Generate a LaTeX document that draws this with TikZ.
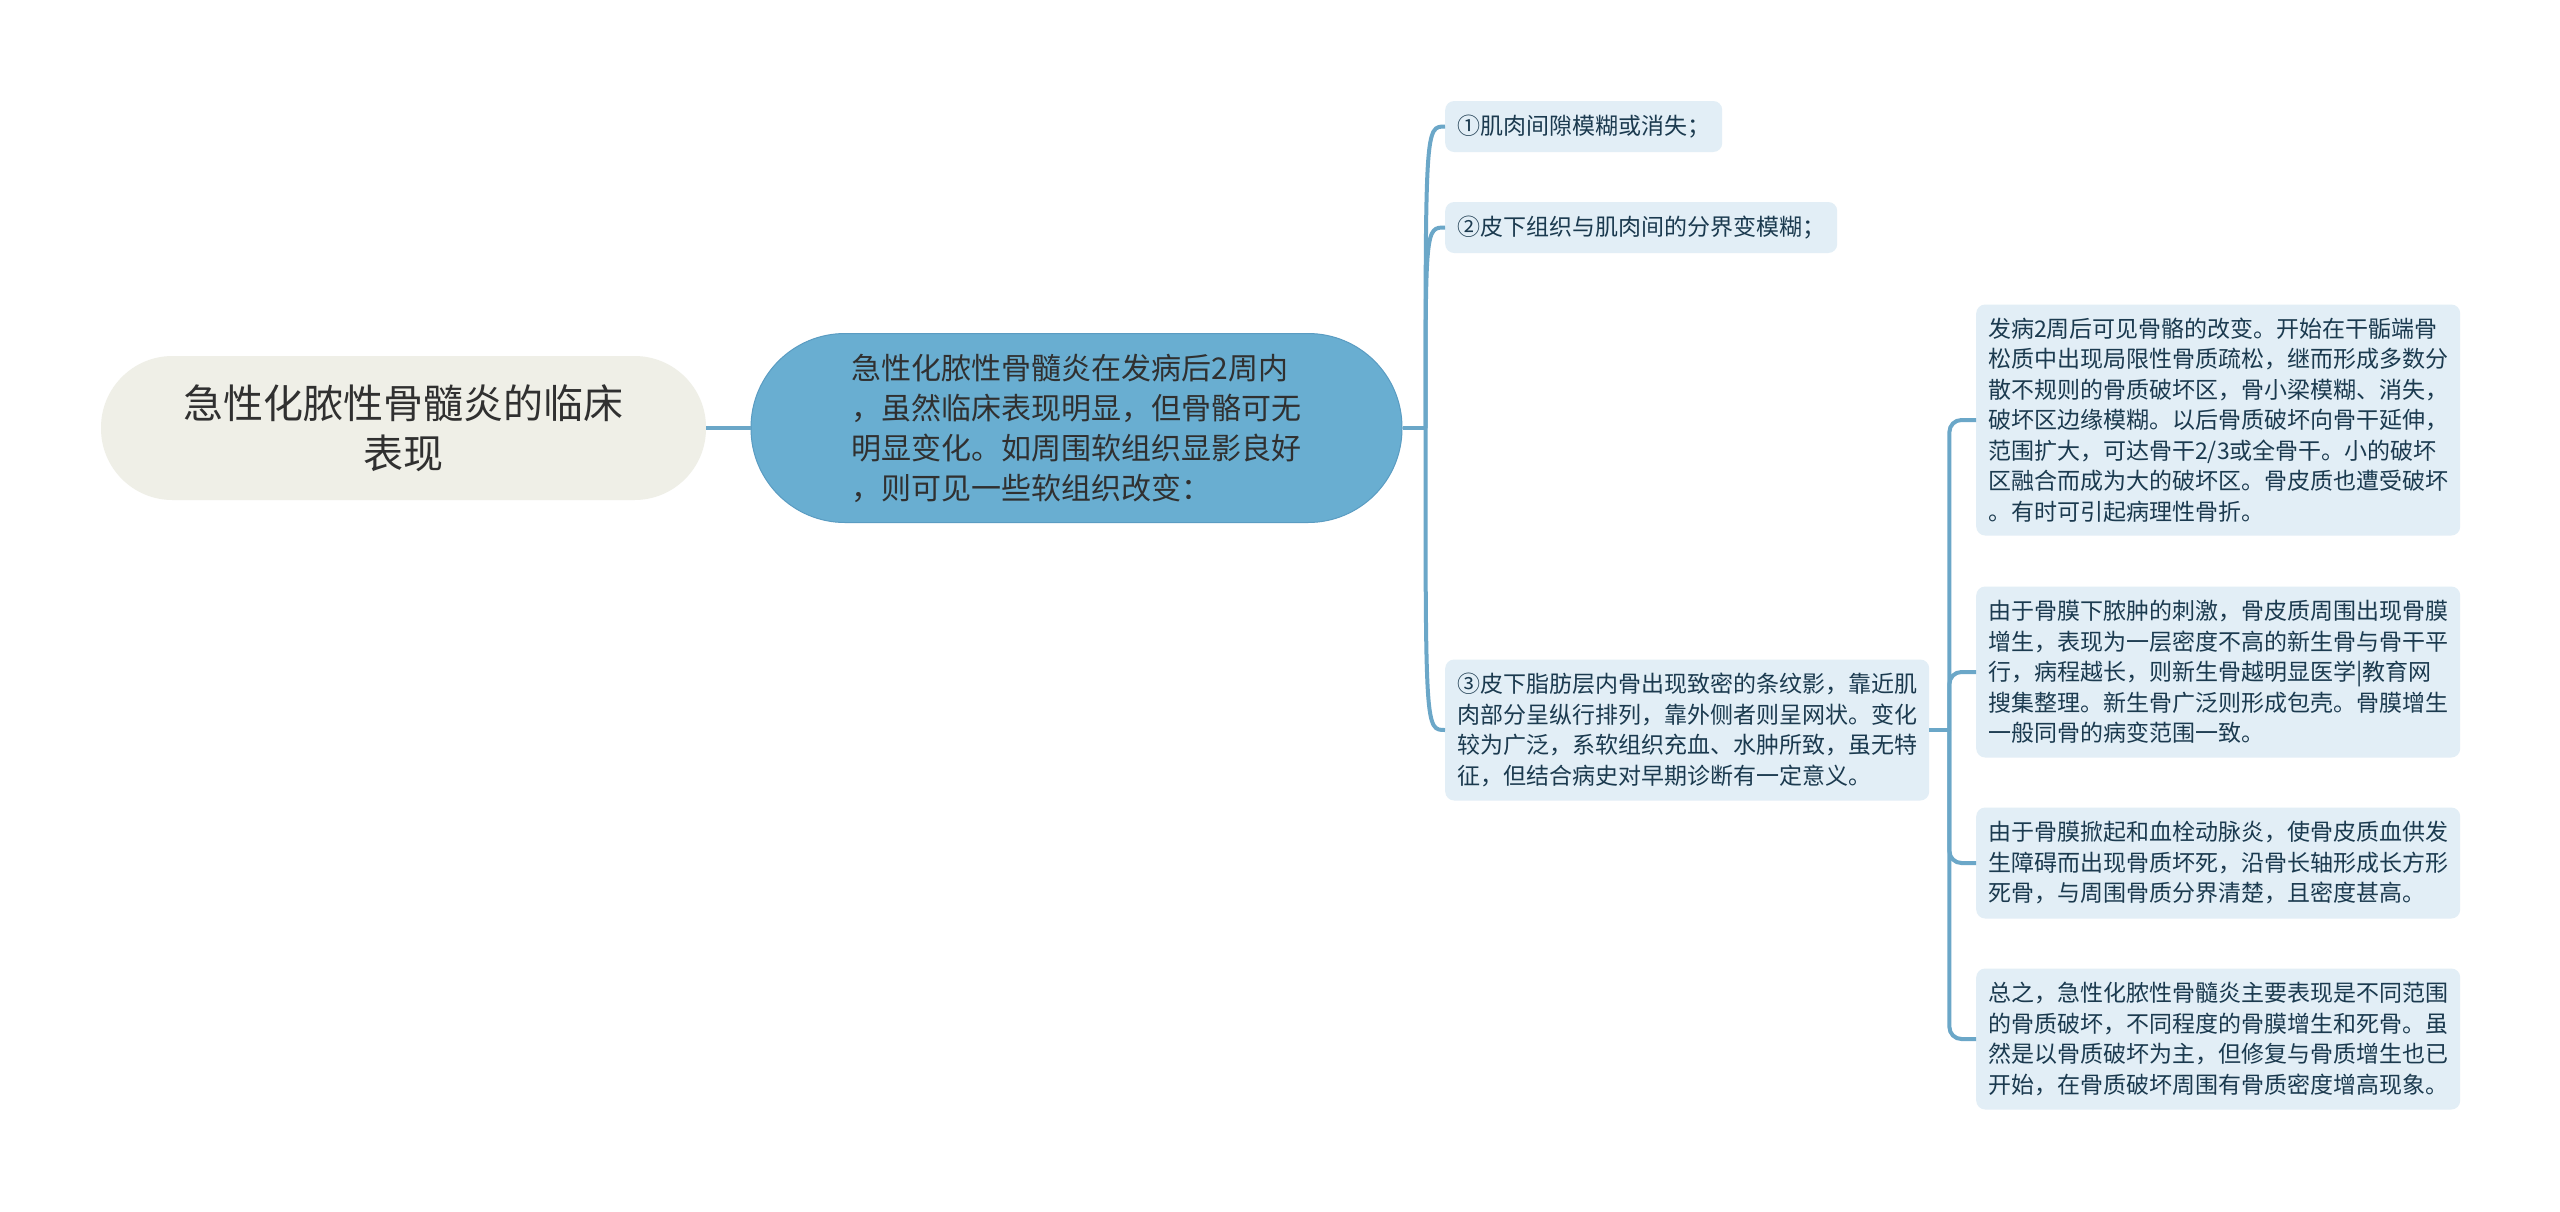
\documentclass[tikz,border=0pt]{standalone}
\usepackage{fontspec}
\setmainfont{Noto Sans CJK SC}
\usetikzlibrary{calc}
\definecolor{lineblue}{HTML}{6BA7C8}
\definecolor{rootfill}{HTML}{EFEFE7}
\definecolor{roottext}{HTML}{303030}
\definecolor{mainfill}{HTML}{69AED1}
\definecolor{mainborder}{HTML}{5A9CC2}
\definecolor{leaffill}{HTML}{E2EEF6}
\definecolor{leaftext}{HTML}{1B3A4F}
\tikzset{
  conn/.style={draw=lineblue, line width=4pt},
  rootbox/.style={fill=rootfill, rounded corners=71.5pt, minimum width=605pt, minimum height=144pt,
    align=center, text=roottext, font=\fontsize{40pt}{50pt}\selectfont, inner sep=0pt},
  mainbox/.style={fill=mainfill, draw=mainborder, line width=1pt, rounded corners=94pt,
    minimum width=651pt, minimum height=189pt, align=left, text=roottext,
    font=\fontsize{30pt}{40pt}\selectfont, inner sep=0pt},
  leaf/.style={fill=leaffill, rounded corners=9pt, anchor=west, align=left, text=leaftext,
    font=\fontsize{23pt}{30.5pt}\selectfont, inner xsep=12pt, inner ysep=0pt},
  leafwide/.style={leaf, minimum width=483pt}
}
\begin{document}
\begin{tikzpicture}[x=1pt, y=-1pt]
\fill[white] (0,0) rectangle (2560,1211);
\useasboundingbox (0,0) rectangle (2560,1211);

\node[rootbox] (root) at (403.5,428) {急性化脓性骨髓炎的临床\\表现};
\node[mainbox] (main) at (1076.5,428) {急性化脓性骨髓炎在发病后2周内\\，虽然临床表现明显，但骨骼可无\\明显变化。如周围软组织显影良好\\，则可见一些软组织改变：\hspace{10pt}};

\node[leaf, minimum height=51pt] (l1) at (1445,126.5) {①肌肉间隙模糊或消失；};
\node[leaf, minimum height=51pt] (l2) at (1445,227.5) {②皮下组织与肌肉间的分界变模糊；};
\node[leaf, minimum height=141pt] (l3) at (1445,730) {③皮下脂肪层内骨出现致密的条纹影，靠近肌\\肉部分呈纵行排列，靠外侧者则呈网状。变化\\较为广泛，系软组织充血、水肿所致，虽无特\\征，但结合病史对早期诊断有一定意义。};

\node[leafwide, minimum height=231pt] (a) at (1976,420) {发病2周后可见骨骼的改变。开始在干骺端骨\\松质中出现局限性骨质疏松，继而形成多数分\\散不规则的骨质破坏区，骨小梁模糊、消失，\\破坏区边缘模糊。以后骨质破坏向骨干延伸，\\范围扩大，可达骨干2/3或全骨干。小的破坏\\区融合而成为大的破坏区。骨皮质也遭受破坏\\。有时可引起病理性骨折。};
\node[leafwide, minimum height=171pt] (b) at (1976,672) {由于骨膜下脓肿的刺激，骨皮质周围出现骨膜\\增生，表现为一层密度不高的新生骨与骨干平\\行，病程越长，则新生骨越明显医学|教育网\\搜集整理。新生骨广泛则形成包壳。骨膜增生\\一般同骨的病变范围一致。};
\node[leafwide, minimum height=111pt] (c) at (1976,863) {由于骨膜掀起和血栓动脉炎，使骨皮质血供发\\生障碍而出现骨质坏死，沿骨长轴形成长方形\\死骨，与周围骨质分界清楚，且密度甚高。};
\node[leafwide, minimum height=141pt] (d) at (1976,1039) {总之，急性化脓性骨髓炎主要表现是不同范围\\的骨质破坏，不同程度的骨膜增生和死骨。虽\\然是以骨质破坏为主，但修复与骨质增生也已\\开始，在骨质破坏周围有骨质密度增高现象。};

\draw[conn] (root.east) -- (main.west);
\coordinate (j2) at ([xshift=23pt]main.east);
\draw[conn] (main.east) -- (j2);
\draw[conn] (j2) .. controls (j2 |- l1.west) .. (l1.west);
\draw[conn] (j2) .. controls (j2 |- l2.west) .. (l2.west);
\draw[conn] (j2) .. controls (j2 |- l3.west) .. (l3.west);
\coordinate (j3) at ([xshift=20pt]l3.east);
\draw[conn] (l3.east) -- (j3);
\draw[conn, rounded corners=12pt] (j3) |- (a.west);
\draw[conn, rounded corners=12pt] (j3) |- (b.west);
\draw[conn, rounded corners=12pt] (j3) |- (c.west);
\draw[conn, rounded corners=12pt] (j3) |- (d.west);
\end{tikzpicture}
\end{document}
